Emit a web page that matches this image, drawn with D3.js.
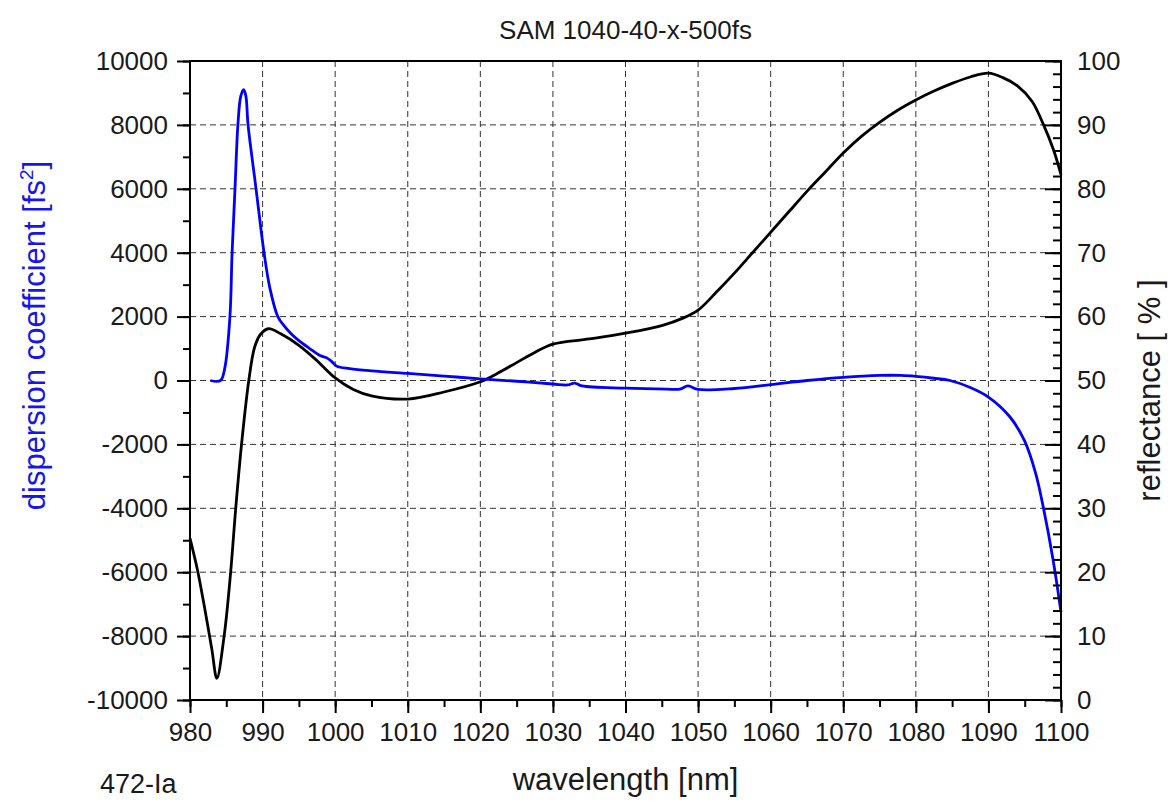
<!DOCTYPE html>
<html>
<head>
<meta charset="utf-8">
<script src="https://cdn.jsdelivr.net/npm/d3@7"></script>
<style>
  body { margin: 0; background: #fff; }
  text { font-family: "Liberation Sans", Arial, Helvetica, sans-serif; fill: #1a1a1a; }
  .grid line { stroke: #333; stroke-width: 1; stroke-dasharray: 6,4; }
</style>
</head>
<body>
<div class="svg-container"></div>
<script>
const title = 'SAM 1040-40-x-500fs'
const sampleId = '472-Ia'

// dispersion coefficient [fs^2] vs wavelength [nm] (blue, left axis)
const dispWl = [982.8, 984.2, 984.8, 985.5, 985.8, 986.2, 986.6, 987.0, 987.4, 987.7, 988.0, 989.1, 990.2, 991.0, 992.1,
  993.0, 994.0, 995.0, 996.5, 997.9, 998.9, 999.5, 1000.2, 1002, 1005, 1010, 1015, 1020, 1024.5, 1030, 1032, 1033, 1034,
  1040, 1045.7, 1047.5, 1048.6, 1050, 1055, 1060, 1065, 1070, 1075, 1078, 1080, 1082.5, 1084.7, 1087.5, 1090, 1093,
  1095, 1096.5, 1097.5, 1098.9, 1100]
const dispVal = [0, 0, 400, 2000, 4000, 6000, 8000, 8900, 9100, 8900, 8000, 6000, 4000, 2900, 2000,
  1700, 1450, 1250, 1000, 780, 700, 600, 450, 370, 300, 220, 140, 50, -15, -110, -140, -80, -170,
  -240, -270, -270, -170, -280, -250, -130, 0, 100, 160, 160, 130, 70, 0, -220, -520, -1150,
  -1900, -2900, -3900, -5600, -7250]

// reflectance [%] vs wavelength [nm] (black, right axis)
const reflWl = [980, 981, 982, 983, 983.7, 984.7, 985.6, 986.3, 987.1, 988.1, 988.9, 989.7, 990.8, 992.5, 995, 997.5,
  1000, 1002.5, 1005, 1010, 1015, 1020, 1022.5, 1025, 1027.5, 1030, 1035, 1040, 1045, 1048, 1050, 1052.5, 1055,
  1057.5, 1060, 1062.5, 1065, 1067.5, 1070, 1072.5, 1075, 1077.5, 1080, 1082.5, 1085, 1087.5, 1090, 1092, 1094,
  1096, 1097.6, 1099, 1100]
const reflVal = [25.3, 20.5, 14.5, 8, 3.4, 10, 20, 30, 40, 50, 55.2, 57.2, 58.1, 57.3, 55.5, 53.1,
  50.4, 48.6, 47.6, 47.1, 48.2, 49.8, 51.2, 52.8, 54.4, 55.7, 56.5, 57.4, 58.6, 59.8, 61, 63.8, 66.8,
  70, 73.2, 76.4, 79.6, 82.6, 85.6, 88.2, 90.4, 92.3, 93.9, 95.3, 96.5, 97.5, 98.1, 97.4, 96.1,
  93.7, 90, 86, 82.2]

const xTicks = [980, 990, 1000, 1010, 1020, 1030, 1040, 1050, 1060, 1070, 1080, 1090, 1100]
const yLeftTicks = [-10000, -8000, -6000, -4000, -2000, 0, 2000, 4000, 6000, 8000, 10000]
const yRightTicks = [0, 10, 20, 30, 40, 50, 60, 70, 80, 90, 100]

const W = 1170, H = 801
const m = { left: 190, right: 1061, top: 61, bottom: 700 }

const svg = d3.select('.svg-container').append('svg')
  .attr('width', W)
  .attr('height', H)

const x = d3.scaleLinear().domain([980, 1100]).range([m.left, m.right])
const yL = d3.scaleLinear().domain([-10000, 10000]).range([m.bottom, m.top])
const yR = d3.scaleLinear().domain([0, 100]).range([m.bottom, m.top])

// dashed grid
const grid = svg.append('g').attr('class', 'grid')
grid.selectAll('.vg')
  .data(xTicks.slice(1, -1))
  .enter().append('line')
  .attr('x1', d => x(d)).attr('x2', d => x(d))
  .attr('y1', m.top).attr('y2', m.bottom)
grid.selectAll('.hg')
  .data(yLeftTicks.slice(1, -1))
  .enter().append('line')
  .attr('x1', m.left).attr('x2', m.right)
  .attr('y1', d => yL(d)).attr('y2', d => yL(d))

// curves
const dispLine = d3.line()
  .x(d => x(d[0])).y(d => yL(d[1]))
  .curve(d3.curveCatmullRom.alpha(0.5))
const reflLine = d3.line()
  .x(d => x(d[0])).y(d => yR(d[1]))
  .curve(d3.curveCatmullRom.alpha(0.5))

svg.append('path')
  .datum(reflWl.map((w, i) => [w, reflVal[i]]))
  .attr('d', reflLine)
  .attr('fill', 'none')
  .attr('stroke', '#000')
  .attr('stroke-width', 2.8)

svg.append('path')
  .datum(dispWl.map((w, i) => [w, dispVal[i]]))
  .attr('d', dispLine)
  .attr('fill', 'none')
  .attr('stroke', '#0000ff')
  .attr('stroke-width', 2.8)

// axes
const fmt = d => String(d)
const tickLines = g => {
  g.select('.domain').remove()
  g.selectAll('line').attr('stroke', '#000').attr('stroke-width', 2)
}
const axisStyle = g => {
  tickLines(g)
  g.selectAll('text').attr('font-size', 26).attr('fill', '#1a1a1a')
}

svg.append('g')
  .attr('transform', `translate(0,${m.bottom})`)
  .call(d3.axisBottom(x).tickValues(d3.range(980, 1101, 5)).tickSize(7).tickFormat(''))
  .call(tickLines)
svg.append('g')
  .attr('transform', `translate(0,${m.bottom})`)
  .call(d3.axisBottom(x).tickValues(xTicks).tickSize(13).tickPadding(10).tickFormat(fmt))
  .call(axisStyle)

svg.append('g')
  .attr('transform', `translate(${m.left},0)`)
  .call(d3.axisLeft(yL).tickValues(d3.range(-10000, 10001, 1000)).tickSize(7).tickFormat(''))
  .call(tickLines)
svg.append('g')
  .attr('transform', `translate(${m.left},0)`)
  .call(d3.axisLeft(yL).tickValues(yLeftTicks).tickSize(13).tickPadding(9).tickFormat(fmt))
  .call(axisStyle)

svg.append('g')
  .attr('transform', `translate(${m.right},0)`)
  .call(d3.axisRight(yR).tickValues(d3.range(0, 101, 2)).tickSize(-8).tickFormat(''))
  .call(tickLines)
svg.append('g')
  .attr('transform', `translate(${m.right},0)`)
  .call(d3.axisRight(yR).tickValues(yRightTicks).tickSize(-16).tickPadding(16).tickFormat(fmt))
  .call(axisStyle)

// frame
svg.append('rect')
  .attr('x', m.left).attr('y', m.top)
  .attr('width', m.right - m.left).attr('height', m.bottom - m.top)
  .attr('fill', 'none').attr('stroke', '#000').attr('stroke-width', 2)

// labels
svg.append('text')
  .attr('x', (m.left + m.right) / 2).attr('y', 39)
  .attr('text-anchor', 'middle').attr('font-size', 26)
  .text(title)

svg.append('text')
  .attr('x', (m.left + m.right) / 2).attr('y', 790)
  .attr('text-anchor', 'middle').attr('font-size', 31)
  .text('wavelength [nm]')

svg.append('text')
  .attr('x', 100).attr('y', 793)
  .attr('font-size', 27)
  .text(sampleId)

const leftLabel = svg.append('text')
  .attr('transform', `translate(45,${(m.top + m.bottom) / 2 - 45}) rotate(-90)`)
  .attr('text-anchor', 'middle').attr('font-size', 31)
  .style('fill', '#1515ee')
leftLabel.append('tspan').text('dispersion coefficient [fs')
leftLabel.append('tspan').attr('dy', -12).attr('font-size', 19).text('2')
leftLabel.append('tspan').attr('dy', 12).text(']')

svg.append('text')
  .attr('transform', `translate(1160,${(m.top + m.bottom) / 2 + 10}) rotate(-90)`)
  .attr('text-anchor', 'middle').attr('font-size', 31)
  .text('reflectance [ % ]')
</script>
</body>
</html>
